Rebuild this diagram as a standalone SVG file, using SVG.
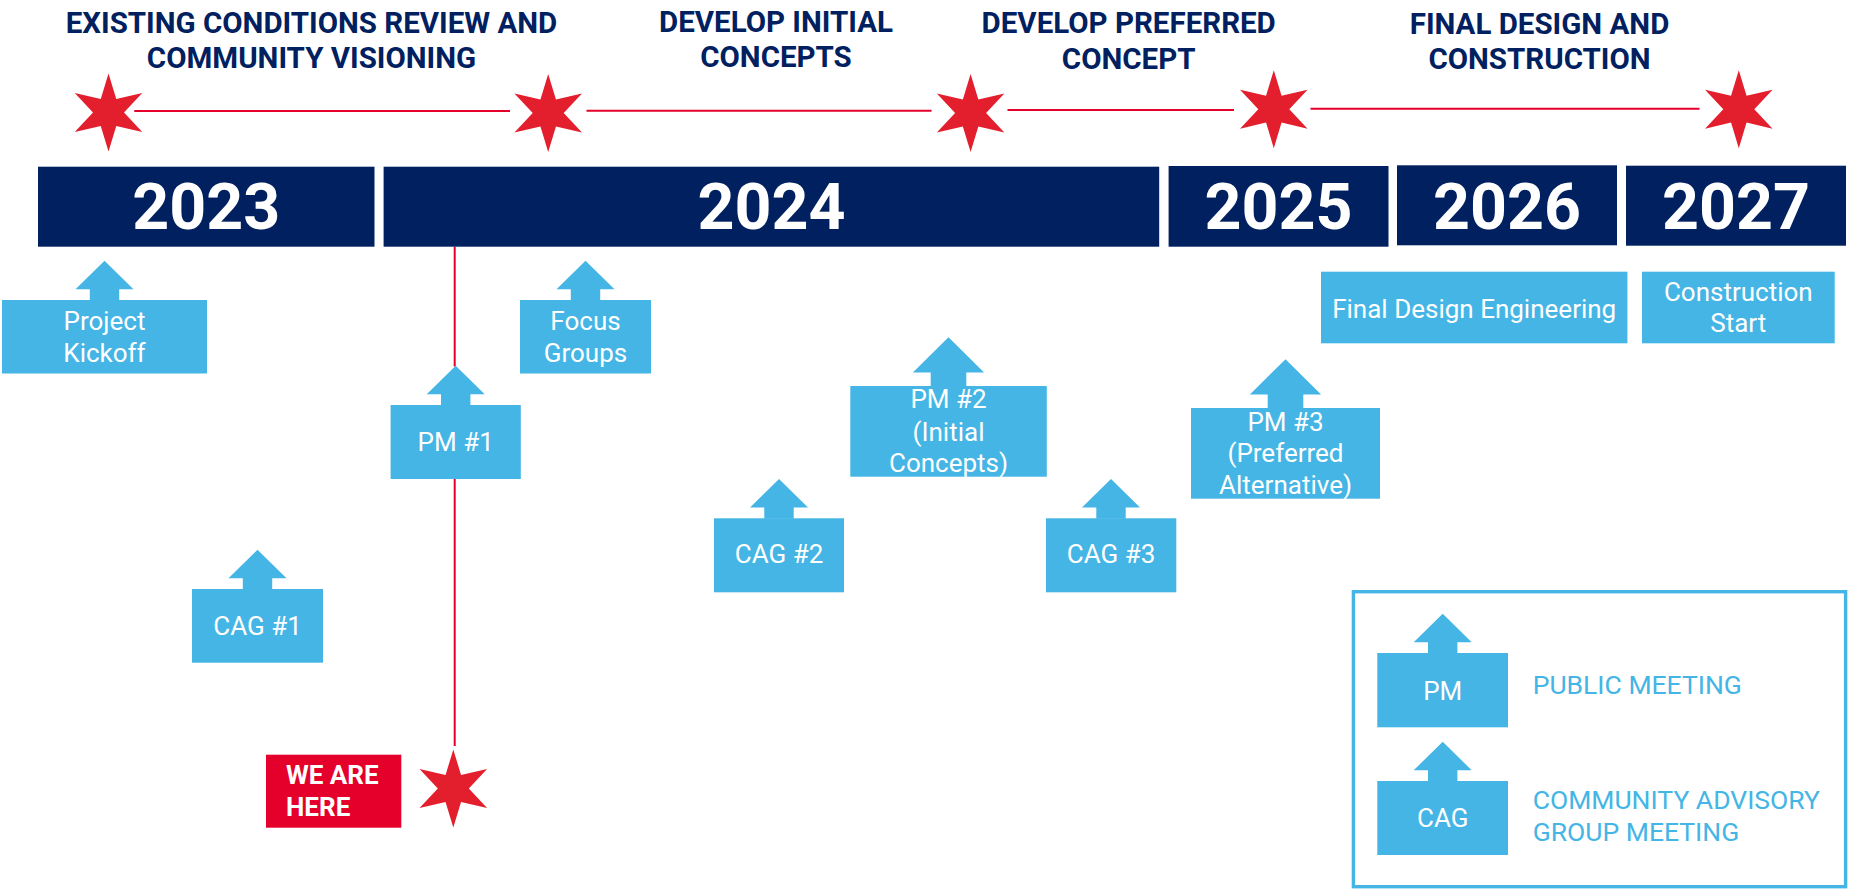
<svg xmlns="http://www.w3.org/2000/svg" xmlns:xlink="http://www.w3.org/1999/xlink" width="1854" height="889" viewBox="0 0 1854 889">
<style>
.title{font-family:Roboto,"Liberation Sans",sans-serif;font-weight:700;font-size:29.5px;fill:#002060;text-anchor:middle}
.year{font-family:Roboto,"Liberation Sans",sans-serif;font-weight:700;font-size:64.5px;fill:#ffffff;text-anchor:middle}
.bar{fill:#002060}
.box{fill:#44b5e5}
.lbl{font-family:Roboto,"Liberation Sans",sans-serif;font-size:26px;fill:#ffffff;text-anchor:middle}
.here{font-family:Roboto,"Liberation Sans",sans-serif;font-weight:700;font-size:26px;fill:#ffffff}
.leg{font-family:Roboto,"Liberation Sans",sans-serif;font-size:26.5px;fill:#44b5e5}
.red{stroke:#e4002b;stroke-width:2;fill:none}
.star{fill:#e31e2d}
</style>
<defs>
<path id="star" d="M0,-39 L7.75,-13.42 L33.77,-19.5 L15.5,0 L33.77,19.5 L7.75,13.42 L0,39 L-7.75,13.42 L-33.77,19.5 L-15.5,0 L-33.77,-19.5 L-7.75,-13.42 Z"/>
<path id="arS" d="M0,-39.3 L29,-10.7 L14.7,-10.7 L14.7,0.5 L-14.7,0.5 L-14.7,-10.7 L-29,-10.7 Z"/>
<path id="arL" d="M0,-48.7 L35.6,-13.6 L17.8,-13.6 L17.8,0.5 L-17.8,0.5 L-17.8,-13.6 L-35.6,-13.6 Z"/>
</defs>
<rect width="1854" height="889" fill="#ffffff"/>

<g id="phase-titles">
<text class="title" x="311.5" y="33.3">EXISTING CONDITIONS REVIEW AND</text>
<text class="title" x="311.5" y="68.3">COMMUNITY VISIONING</text>
<text class="title" x="776" y="32.3">DEVELOP INITIAL</text>
<text class="title" x="776" y="67.3">CONCEPTS</text>
<text class="title" x="1128.7" y="33.3">DEVELOP PREFERRED</text>
<text class="title" x="1128.7" y="68.8">CONCEPT</text>
<text class="title" x="1539.5" y="34">FINAL DESIGN AND</text>
<text class="title" x="1539.5" y="69.3">CONSTRUCTION</text>
</g>

<g id="connectors">
<line class="red" x1="134.3" y1="111" x2="510" y2="111"/>
<line class="red" x1="586.5" y1="110.7" x2="931.5" y2="110.7"/>
<line class="red" x1="1007.5" y1="110" x2="1234" y2="110"/>
<line class="red" x1="1310.5" y1="108.7" x2="1699.5" y2="108.7"/>
<line class="red" x1="454.7" y1="246.7" x2="454.7" y2="366.5"/>
<line class="red" x1="454.7" y1="478.5" x2="454.7" y2="746"/>
</g>

<g id="milestones">
<use xlink:href="#star" href="#star" class="star" x="108.5" y="112.5"/>
<use xlink:href="#star" href="#star" class="star" x="548.2" y="113"/>
<use xlink:href="#star" href="#star" class="star" x="970.6" y="113"/>
<use xlink:href="#star" href="#star" class="star" x="1273.8" y="109.2"/>
<use xlink:href="#star" href="#star" class="star" x="1738.8" y="109.2"/>
</g>

<g id="year-2023"><rect class="bar" x="38" y="166.7" width="336.5" height="80"/><text class="year" x="206.2" y="229.3">2023</text></g>
<g id="year-2024"><rect class="bar" x="383.6" y="166.7" width="775.6" height="80"/><text class="year" x="771.4" y="229.3">2024</text></g>
<g id="year-2025"><rect class="bar" x="1168.6" y="166" width="219.9" height="80.7"/><text class="year" x="1278.5" y="229.3">2025</text></g>
<g id="year-2026"><rect class="bar" x="1397" y="165.3" width="220" height="80"/><text class="year" x="1507" y="228.5">2026</text></g>
<g id="year-2027"><rect class="bar" x="1626" y="165.7" width="220" height="80"/><text class="year" x="1736" y="229">2027</text></g>

<g id="project-kickoff">
<use xlink:href="#arS" href="#arS" class="box" x="104.5" y="300"/>
<rect class="box" x="2" y="300" width="205" height="73.5"/>
<text class="lbl" x="104.5" y="330">Project</text>
<text class="lbl" x="104.5" y="362.3">Kickoff</text>
</g>

<g id="focus-groups">
<use xlink:href="#arS" href="#arS" class="box" x="585.5" y="300"/>
<rect class="box" x="520" y="300" width="131" height="73.5"/>
<text class="lbl" x="585.5" y="330">Focus</text>
<text class="lbl" x="585.5" y="362.3">Groups</text>
</g>

<g id="pm-1">
<use xlink:href="#arS" href="#arS" class="box" x="455.7" y="405"/>
<rect class="box" x="390.6" y="405" width="130.2" height="74"/>
<text class="lbl" x="455.7" y="450.7">PM #1</text>
</g>

<g id="cag-1">
<use xlink:href="#arS" href="#arS" class="box" x="257.5" y="589"/>
<rect class="box" x="192" y="589" width="131" height="73.7"/>
<text class="lbl" x="257.5" y="635">CAG #1</text>
</g>

<g id="pm-2">
<use xlink:href="#arL" href="#arL" class="box" x="948.5" y="386"/>
<rect class="box" x="850.3" y="386" width="196.5" height="90.7"/>
<text class="lbl" x="948.5" y="408.3">PM #2</text>
<text class="lbl" x="948.5" y="440.5">(Initial</text>
<text class="lbl" x="948.5" y="471.7">Concepts)</text>
</g>

<g id="cag-2">
<use xlink:href="#arS" href="#arS" class="box" x="779" y="518.3"/>
<rect class="box" x="714" y="518.3" width="130" height="74"/>
<text class="lbl" x="779" y="563.3">CAG #2</text>
</g>

<g id="cag-3">
<use xlink:href="#arS" href="#arS" class="box" x="1111" y="518.3"/>
<rect class="box" x="1046" y="518.3" width="130.3" height="74"/>
<text class="lbl" x="1111" y="563.3">CAG #3</text>
</g>

<g id="pm-3">
<use xlink:href="#arL" href="#arL" class="box" x="1285.5" y="408"/>
<rect class="box" x="1191" y="408" width="189" height="90.7"/>
<text class="lbl" x="1285.5" y="430.7">PM #3</text>
<text class="lbl" x="1285.5" y="462.3">(Preferred</text>
<text class="lbl" x="1285.5" y="494">Alternative)</text>
</g>

<g id="final-design">
<rect class="box" x="1321" y="271.7" width="306.4" height="71.6"/>
<text class="lbl" x="1474.2" y="318.3">Final Design Engineering</text>
</g>

<g id="construction-start">
<rect class="box" x="1642" y="271.7" width="192.7" height="71.6"/>
<text class="lbl" x="1738.3" y="301">Construction</text>
<text class="lbl" x="1738.3" y="332.3">Start</text>
</g>

<g id="we-are-here">
<rect x="266" y="754.7" width="135.3" height="73" fill="#e4002b"/>
<text class="here" x="286" y="784">WE ARE</text>
<text class="here" x="286" y="816">HERE</text>
<use xlink:href="#star" href="#star" class="star" x="453.3" y="788.5"/>
</g>

<g id="legend">
<rect x="1353.4" y="591.7" width="492.2" height="295" fill="none" stroke="#44b5e5" stroke-width="3.4"/>
<use xlink:href="#arS" href="#arS" class="box" x="1442.7" y="653"/>
<rect class="box" x="1377.3" y="653" width="130.7" height="74.3"/>
<text class="lbl" x="1442.7" y="700">PM</text>
<text class="leg" x="1532.7" y="694.3">PUBLIC MEETING</text>
<use xlink:href="#arS" href="#arS" class="box" x="1442.7" y="781"/>
<rect class="box" x="1377.3" y="781" width="130.7" height="74"/>
<text class="lbl" x="1442.7" y="826.7">CAG</text>
<text class="leg" x="1532.7" y="809.3">COMMUNITY ADVISORY</text>
<text class="leg" x="1532.7" y="840.7">GROUP MEETING</text>
</g>
</svg>
